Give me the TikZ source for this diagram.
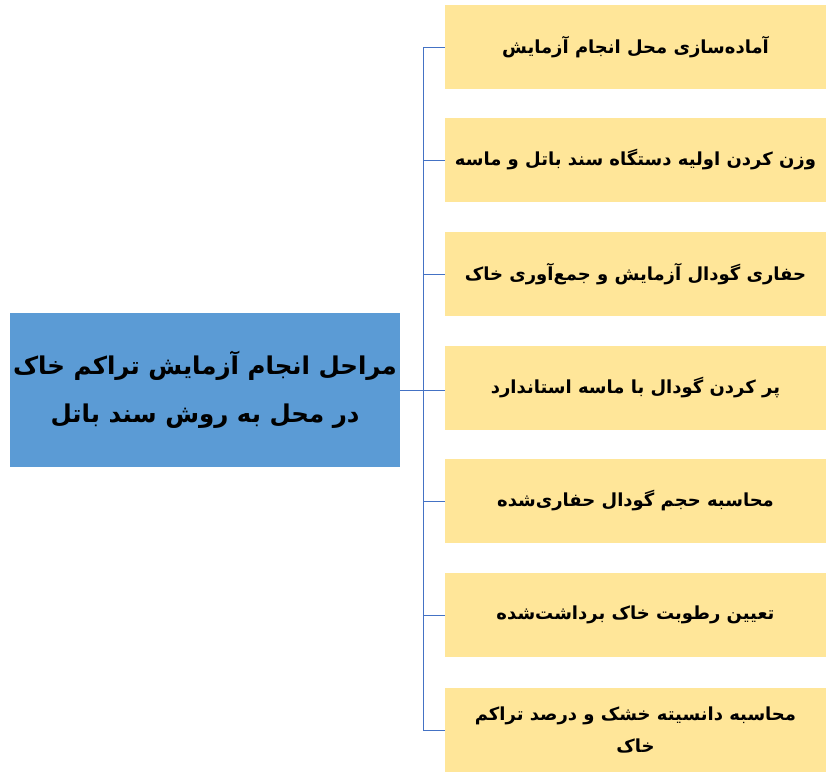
\documentclass[tikz,border=0pt]{standalone}
\usepackage{fontspec}
\newfontfamily\arabicfont[Script=Arabic]{DejaVu Sans}
\TeXXeTstate=1
\definecolor{titleblue}{HTML}{5B9BD5}
\definecolor{stepgold}{HTML}{FFE699}
\definecolor{linkblue}{HTML}{4472C4}
\begin{document}
\begin{tikzpicture}[x=1pt, y=-1pt,
  titlebox/.style={fill=titleblue, minimum width=390pt, minimum height=154pt, inner xsep=1pt, align=center, font=\arabicfont\bfseries\fontsize{24.5}{48}\selectfont},
  stepbox/.style={fill=stepgold, minimum width=381pt, minimum height=84pt, align=center, font=\arabicfont\bfseries\fontsize{18}{32}\selectfont},
  link/.style={draw=linkblue, line width=0.8pt}]
\useasboundingbox (0,0) rectangle (830,780);

\node[titlebox] (title) at (205,390) {\beginR مراحل انجام آزمایش تراکم خاک\endR\\\beginR در محل به روش سند باتل\endR};

\node[stepbox] (s1) at (635.5,47) {\beginR آماده‌سازی محل انجام آزمایش\endR};
\node[stepbox] (s2) at (635.5,160) {\beginR وزن کردن اولیه دستگاه سند باتل و ماسه\endR};
\node[stepbox] (s3) at (635.5,274) {\beginR حفاری گودال آزمایش و جمع‌آوری خاک\endR};
\node[stepbox] (s4) at (635.5,388) {\beginR پر کردن گودال با ماسه استاندارد\endR};
\node[stepbox] (s5) at (635.5,501) {\beginR محاسبه حجم گودال حفاری‌شده\endR};
\node[stepbox] (s6) at (635.5,615) {\beginR تعیین رطوبت خاک برداشت‌شده\endR};
\node[stepbox] (s7) at (635.5,730) {\beginR محاسبه دانسیته خشک و درصد تراکم\endR\\\beginR خاک\endR};

\coordinate (bus) at (423,0);
\draw[link] (s1.west) -- (s1.west -| bus) -- (s7.west -| bus) -- (s7.west);
\draw[link] (s2.west) -- (s2.west -| bus);
\draw[link] (s3.west) -- (s3.west -| bus);
\draw[link] (title.east) -- (title.east -| s4.west);
\draw[link] (s5.west) -- (s5.west -| bus);
\draw[link] (s6.west) -- (s6.west -| bus);

\end{tikzpicture}
\end{document}
